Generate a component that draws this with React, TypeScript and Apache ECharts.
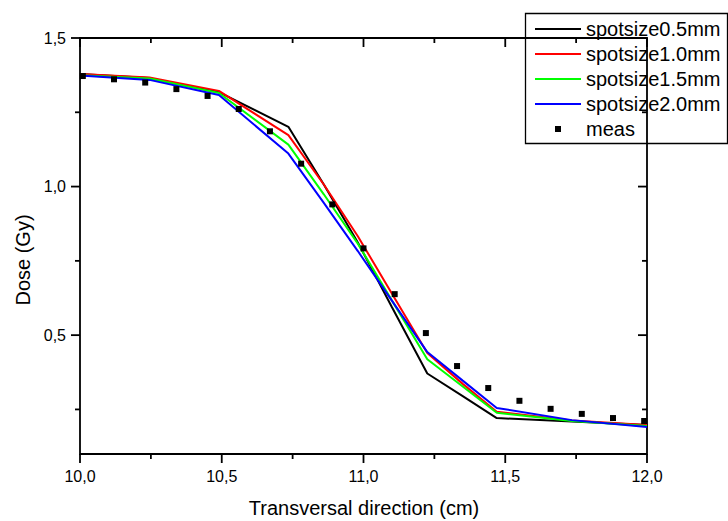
import React, { useEffect, useRef } from "react";
import * as echarts from "echarts";

// Simulation grid (cm) and dose values (Gy)
const simX = [10.0, 10.245, 10.49, 10.735, 10.86, 10.98, 11.1, 11.225, 11.35, 11.47, 11.735, 12.0];
const spot05 = [1.379, 1.365, 1.318, 1.201, 1.007, 0.812, 0.595, 0.371, 0.295, 0.221, 0.209, 0.198];
const spot10 = [1.379, 1.367, 1.322, 1.173, 1.007, 0.833, 0.64, 0.44, 0.336, 0.242, 0.213, 0.198];
const spot15 = [1.375, 1.364, 1.315, 1.141, 0.974, 0.808, 0.617, 0.419, 0.327, 0.239, 0.211, 0.194];
const spot20 = [1.374, 1.359, 1.308, 1.111, 0.945, 0.783, 0.616, 0.443, 0.347, 0.255, 0.214, 0.191];

// Measurements
const measX = [10.01, 10.12, 10.23, 10.34, 10.45, 10.56, 10.67, 10.78, 10.89, 11.0, 11.11, 11.22, 11.33, 11.44, 11.55, 11.66, 11.77, 11.88, 11.99];
const measY = [1.372, 1.361, 1.35, 1.328, 1.305, 1.261, 1.186, 1.077, 0.94, 0.792, 0.638, 0.507, 0.396, 0.322, 0.279, 0.252, 0.235, 0.221, 0.211];

const seriesNames = ["spotsize0.5mm", "spotsize1.0mm", "spotsize1.5mm", "spotsize2.0mm", "meas"];
const seriesColors = ["#000000", "#ff0000", "#00ff00", "#0000ff", "#000000"];

// Axis ticks
const xMin = 10;
const xMax = 12;
const yMin = 0.1;
const yMax = 1.5;
const xMajorTicks = [10.0, 10.5, 11.0, 11.5, 12.0];
const xMinorTicks = [10.25, 10.75, 11.25, 11.75];
const yMajorTicks = [0.5, 1.0, 1.5];
const yMinorTicks = [0.25, 0.75, 1.25];
const yLabelValues = [0.5, 1.0, 1.5];

const FONT = '"Liberation Sans", Arial, sans-serif';
const fmt = (v: number) => v.toFixed(1).replace(".", ",");

export default function App() {
  const ref = useRef<HTMLDivElement>(null);
  useEffect(() => {
    if (!ref.current) return;
    const chart = echarts.init(ref.current, undefined, { renderer: "svg" });
    const lineSets = [spot05, spot10, spot15, spot20];
    const lineIcon = "path://M0,9h46v2h-46z";

    // tick data: [value, kind (0 = x, 1 = y), length]
    const tickData: number[][] = [
      ...xMajorTicks.map((v) => [v, 0, 9]),
      ...xMinorTicks.map((v) => [v, 0, 5]),
      ...yMajorTicks.map((v) => [v, 1, 9]),
      ...yMinorTicks.map((v) => [v, 1, 5]),
    ];
    const tickStyle = { stroke: "#000", lineWidth: 1.8, fill: null };

    const option: any = {
      animation: false,
      backgroundColor: "#fff",
      grid: {
        left: 80,
        right: 81,
        top: 38,
        bottom: 67,
        show: true,
        borderColor: "#000",
        borderWidth: 1.8,
        backgroundColor: "transparent",
      },
      legend: {
        orient: "vertical",
        left: 535,
        top: 19,
        padding: 0,
        itemWidth: 46,
        itemHeight: 20,
        itemGap: 5,
        textStyle: { fontSize: 20, fontFamily: FONT, color: "#000", lineHeight: 20 },
        data: [
          { name: seriesNames[0], icon: lineIcon },
          { name: seriesNames[1], icon: lineIcon },
          { name: seriesNames[2], icon: lineIcon },
          { name: seriesNames[3], icon: lineIcon },
          {
            name: seriesNames[4],
            icon: "path://M0,0h0.05v0.05h-0.05z M20,7h6v6h-6z M46,20h-0.05v-0.05h0.05z",
          },
        ],
      },
      xAxis: {
        type: "value",
        min: xMin,
        max: xMax,
        interval: 0.5,
        axisLine: { show: false },
        axisTick: { show: false },
        splitLine: { show: false },
        axisLabel: { fontSize: 16, fontFamily: FONT, color: "#000", margin: 14, formatter: fmt },
      },
      yAxis: {
        type: "value",
        min: yMin,
        max: yMax,
        axisLine: { show: false },
        axisTick: { show: false },
        splitLine: { show: false },
        axisLabel: {
          fontSize: 16,
          fontFamily: FONT,
          color: "#000",
          margin: 14,
          customValues: yLabelValues,
          formatter: fmt,
        },
      },
      series: [
        {
          name: "ticks",
          type: "custom",
          silent: true,
          clip: false,
          z: 5,
          data: tickData,
          renderItem: (params: any, api: any) => {
            const v = api.value(0);
            const kind = api.value(1);
            const len = api.value(2);
            if (kind === 0) {
              const b = api.coord([v, yMin]);
              const t = api.coord([v, yMax]);
              return {
                type: "group",
                children: [
                  { type: "line", shape: { x1: b[0], y1: b[1], x2: b[0], y2: b[1] + len }, style: tickStyle },
                  { type: "line", shape: { x1: t[0], y1: t[1], x2: t[0], y2: t[1] + len }, style: tickStyle },
                ],
              };
            }
            const l = api.coord([xMin, v]);
            const r = api.coord([xMax, v]);
            return {
              type: "group",
              children: [
                { type: "line", shape: { x1: l[0] - len, y1: l[1], x2: l[0], y2: l[1] }, style: tickStyle },
                { type: "line", shape: { x1: r[0] - len, y1: r[1], x2: r[0], y2: r[1] }, style: tickStyle },
              ],
            };
          },
        },
        ...lineSets.map((vals, i) => ({
          name: seriesNames[i],
          type: "line",
          symbol: "none",
          color: seriesColors[i],
          lineStyle: { color: seriesColors[i], width: 2 },
          data: simX.map((x, j) => [x, vals[j]]),
          z: 2,
        })),
        {
          name: seriesNames[4],
          type: "scatter",
          symbol: "rect",
          symbolSize: 6,
          color: seriesColors[4],
          itemStyle: { color: seriesColors[4], opacity: 1 },
          data: measX.map((x, j) => [x, measY[j]]),
          z: 3,
        },
      ],
      graphic: [
        {
          type: "rect",
          shape: { x: 525.5, y: 13.5, width: 202, height: 130 },
          style: { fill: "none", stroke: "#000", lineWidth: 1.3 },
          z: 10,
        },
        {
          type: "text",
          x: 364,
          y: 508,
          style: {
            text: "Transversal direction (cm)",
            font: `20px ${FONT}`,
            fill: "#000",
            align: "center",
            verticalAlign: "middle",
          },
        },
        {
          type: "text",
          x: 23,
          y: 260,
          rotation: Math.PI / 2,
          style: {
            text: "Dose (Gy)",
            font: `20px ${FONT}`,
            fill: "#000",
            align: "center",
            verticalAlign: "middle",
          },
        },
      ],
    };
    chart.setOption(option);
    return () => chart.dispose();
  }, []);
  return (
    <div
      ref={ref}
      style={{ position: "fixed", left: 0, top: 0, width: 728, height: 521, background: "#fff" }}
    />
  );
}
